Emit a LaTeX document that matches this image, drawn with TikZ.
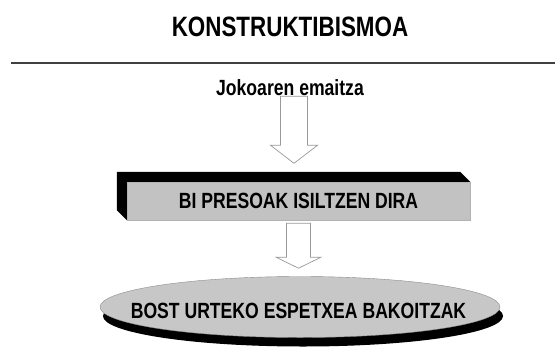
\documentclass[tikz,border=0pt]{standalone}
\usepackage{fontspec}
\setmainfont{Liberation Sans}[FakeStretch=0.8]
\usetikzlibrary{shapes.geometric, shadows, calc}

\begin{document}
\begin{tikzpicture}[
        x=1pt, y=-1pt,
        every node/.style = {
            font=\bfseries\fontsize{22}{24}\selectfont,
            inner sep=0pt
        },
        hollow arrow/.style = {
            draw=black!40,
            fill=white,
            line width=0.7pt
        },
        grey box/.style = {
            rectangle,
            draw=black!30,
            fill=black!24,
            minimum width=343pt,
            minimum height=38pt
        },
        grey oval/.style = {
            ellipse,
            draw=black!45,
            fill=black!22,
            minimum width=400pt,
            minimum height=61pt,
            drop shadow={shadow xshift=3pt, shadow yshift=-9pt, fill=black, opacity=1}
        }]
    \useasboundingbox (0,0) rectangle (555,349);
    \node (title) at (290,27) {\fontsize{28}{30}\selectfont KONSTRUKTIBISMOA};
    \coordinate (rulel) at (11,63);
    \coordinate (ruler) at (555,63);
    \draw[line width=1.5pt, black!75] (rulel) -- (ruler);
    \node (result) at (290,88) {Jokoaren emaitza};
    % first case
    \node[grey box] (bi) at (298.5,201) {BI PRESOAK ISILTZEN DIRA};
    \fill[black] (bi.south west) -- ++(-10,-10) -- ($(bi.north west)+(-10,-10)$)
        -- ($(bi.north east)+(-10,-10)$) -- (bi.north east) -- (bi.north west) -- cycle;
    \node[grey oval] (bost) at (300,307) {};
    \node (bosttext) at (298.5,311) {BOST URTEKO ESPETXEA BAKOITZAK};
    % hollow arrows
    \coordinate (a1) at ($(result.south)+(4,0)$);
    \draw[hollow arrow] (a1) ++(-13.5,0) -- ++(27,0) -- ++(0,49) -- ++(10,0)
        -- ++(-23.5,18) -- ++(-23.5,-18) -- ++(10,0) -- cycle;
    \coordinate (a2) at ($(bi.south)+(0,3)$);
    \draw[hollow arrow] (a2) ++(-12,0) -- ++(24,0) -- ++(0,34) -- ++(10.5,0)
        -- ++(-22.5,11) -- ++(-22.5,-11) -- ++(10.5,0) -- cycle;
\end{tikzpicture}
\end{document}
